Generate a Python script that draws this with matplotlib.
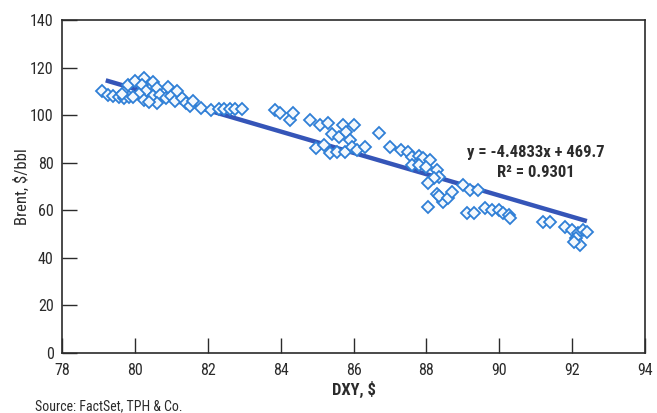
import matplotlib.pyplot as plt
from matplotlib import font_manager

names = [f.name for f in font_manager.fontManager.ttflist]
fam = 'DejaVu Sans'
for n in ['Liberation Sans Narrow', 'Roboto Condensed', 'Open Sans Condensed']:
    if n in names:
        fam = n
        break
plt.rcParams['font.family'] = [fam, 'DejaVu Sans']

dxy = [79.1, 79.25, 79.4, 79.55, 79.7, 79.85, 79.65, 79.8, 80.0, 80.25, 80.2, 80.5, 80.6,
       80.3, 80.1, 79.95, 80.25, 80.5, 80.7, 80.85, 81.0, 81.1, 81.3, 81.4, 81.5, 81.6,
       81.8, 82.1, 82.3, 82.45, 82.6, 82.75, 82.95, 80.6, 80.9, 81.15, 80.4,
       83.85, 83.98, 84.25, 84.35, 84.8, 85.07, 85.3, 85.7, 86.0, 85.4, 85.6, 85.8, 85.9,
       84.96, 85.2, 85.34, 85.55, 85.77, 85.96, 86.1, 86.3, 86.7, 87.0, 87.3,
       87.5, 87.6, 87.8, 87.9, 88.1, 87.6, 87.8, 88.0, 88.3, 88.35, 88.2, 88.05, 88.3,
       88.45, 88.05, 88.35, 88.6, 88.7, 89.0, 89.2, 89.4, 89.1, 89.3, 89.6, 89.8, 90.0,
       90.1, 90.26, 90.3, 91.2, 91.4, 91.8, 92.0, 92.15, 92.3, 92.1, 92.2, 92.4, 92.05]
brent = [110, 108.5, 108, 107.5, 107, 107.5, 109, 112.5, 114.5, 115.5, 112.5, 114, 111.5,
         110, 109, 107.5, 106.5, 108, 108.5, 107, 108, 106, 107, 105, 104, 106,
         103, 102, 102.5, 102.5, 102.5, 102.5, 102.5, 105, 112, 110, 105.5,
         102, 101, 98, 101, 98, 96, 96.5, 96, 96, 92, 91, 93, 89.5,
         86, 87.4, 84, 84.5, 84.5, 86.6, 85.3, 86.6, 92.5, 86.6, 85.3,
         84.5, 82.4, 83, 82, 81, 79, 79, 78, 77, 74, 73.5, 71.5, 67,
         63.5, 61.4, 66, 65, 67.7, 70.6, 68.5, 68.5, 59, 59, 61, 60, 60,
         59, 58, 56.7, 55, 55, 53, 51.7, 50.4, 51.7, 48.3, 45.4, 51, 46.5]

slope = -4.4833
intercept = 469.7
fit_x = [79.2, 92.4]
fit_y = [slope * v + intercept for v in fit_x]

dark = '#2b2b2b'
fig = plt.figure(figsize=(6.57, 4.13), dpi=100)
ax = fig.add_axes([0.0944, 0.1453, 0.8876, 0.8063])

ax.plot(fit_x, fit_y, color='#3555b8', lw=3.2, solid_capstyle='butt', zorder=2)
ax.plot(dxy, brent, 'D', ms=6.3, mfc='#f3f8fd', mec='#2f7fd6', mew=1.3, zorder=3)

ax.set_xlim(78, 94)
ax.set_ylim(0, 140)
ax.set_xticks(range(78, 95, 2))
ax.set_yticks(range(0, 141, 20))
ax.tick_params(direction='in', length=11, width=1, color=dark, labelcolor=dark,
               labelsize=11.5, pad=6)
ax.tick_params(axis='x', pad=7)
for s in ax.spines.values():
    s.set_color(dark)
    s.set_linewidth(1.2)

ax.set_xlabel('DXY, $', fontsize=12, fontweight='bold', color=dark, labelpad=2)
ax.set_ylabel('Brent, $/bbl', fontsize=12, color=dark, labelpad=0)

ax.text(91.0, 84.5, 'y = -4.4833x + 469.7', fontsize=12, fontweight='bold',
        color=dark, ha='center', va='center')
ax.text(91.0, 76.0, 'R² = 0.9301', fontsize=12, fontweight='bold',
        color=dark, ha='center', va='center')

fig.text(35 / 657, 1 - 406 / 413, 'Source: FactSet, TPH & Co.', fontsize=10,
         color=dark, ha='left', va='center')

fig.savefig('out.png', dpi=100)
